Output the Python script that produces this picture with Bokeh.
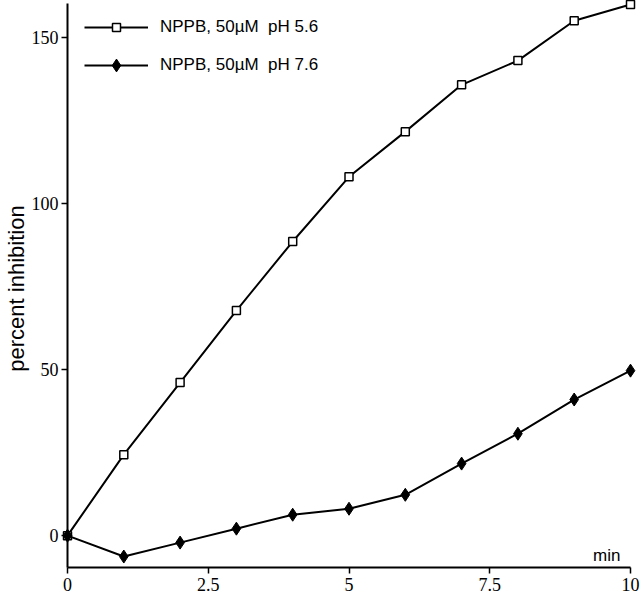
from bokeh.plotting import figure
from bokeh.models import (Range1d, FixedTicker, Legend, LegendItem, Label,
                          ColumnDataSource)
from bokeh.embed import file_html
from bokeh.resources import INLINE

# ---- data ----
minutes = [0, 1, 2, 3, 4, 5, 6, 7, 8, 9, 10]
ph56 = [0, 24.4, 46.1, 67.8, 88.6, 108.1, 121.7, 135.8, 143.1, 155.1, 160.0]
ph76 = [0, -6.3, -2.1, 2.1, 6.3, 8.1, 12.3, 21.7, 30.7, 41.0, 49.7]
label56 = "NPPB, 50µM  pH 5.6"
label76 = "NPPB, 50µM  pH 7.6"
x_ticks = [0, 2.5, 5, 7.5, 10]
x_tick_labels = ["0", "2.5", "5", "7.5", "10"]
y_ticks = [0, 50, 100, 150]
x_lo, x_hi = 0, 10
y_lo, y_hi = -9.6, 160.3

src = ColumnDataSource(dict(x=minutes, a=ph56, b=ph76))

p = figure(width=640, height=596, output_backend="svg", toolbar_location=None,
           x_range=Range1d(x_lo, x_hi), y_range=Range1d(y_lo, y_hi),
           min_border_left=67, min_border_right=10, min_border_top=3,
           min_border_bottom=29)
p.outline_line_color = None
p.xgrid.visible = False
p.ygrid.visible = False
p.background_fill_color = "white"

serif = "Liberation Serif"
sans = "Liberation Sans"

for ax in (p.xaxis[0], p.yaxis[0]):
    ax.axis_line_width = 2
    ax.axis_line_color = "black"
    ax.major_tick_line_width = 1.5
    ax.major_tick_line_color = "black"
    ax.major_tick_out = 6
    ax.major_tick_in = 0
    ax.minor_tick_line_color = None
    ax.major_label_text_font = serif
    ax.major_label_text_font_size = "18px"
    ax.major_label_text_color = "black"
    ax.major_label_standoff = 3

p.xaxis.major_label_standoff = 4
p.xaxis.ticker = FixedTicker(ticks=x_ticks)
p.xaxis.major_label_overrides = {t: s for t, s in zip(x_ticks, x_tick_labels)}
p.yaxis.ticker = FixedTicker(ticks=y_ticks)
p.yaxis.axis_label = "percent  inhibition"
p.yaxis.axis_label_text_font = sans
p.yaxis.axis_label_text_font_style = "normal"
p.yaxis.axis_label_text_font_size = "22px"
p.yaxis.axis_label_text_color = "black"
p.yaxis.axis_label_standoff = 0

l1 = p.line("x", "a", source=src, line_color="black", line_width=2)
m1 = p.scatter("x", "a", source=src, marker="square", size=8,
               fill_color="white", line_color="black", line_width=1.5,
               level="overlay")
l2 = p.line("x", "b", source=src, line_color="black", line_width=2)
m2 = p.scatter("x", "b", source=src, marker="diamond", size=13,
               fill_color="black", line_color="black", line_width=1,
               level="overlay")

common = dict(margin=0, padding=0, glyph_width=64, spacing=0,
              label_standoff=12, label_text_font=sans,
              label_text_font_size="17px", label_text_color="black",
              border_line_color=None, background_fill_alpha=0)
legend_a = Legend(items=[LegendItem(label=label56, renderers=[l1, m1])],
                  location=(17, 530), glyph_height=20, **common)
legend_b = Legend(items=[LegendItem(label=label76, renderers=[l2, m2])],
                  location=(17, 486), glyph_height=32, **common)
p.add_layout(legend_a)
p.add_layout(legend_b)

p.add_layout(Label(x=x_hi, y=y_lo, x_offset=-10, y_offset=12, text="min",
                   text_align="right", text_baseline="alphabetic",
                   text_font=sans, text_font_size="17px", text_color="black"))

open("out.html", "w").write(file_html(p, INLINE))
